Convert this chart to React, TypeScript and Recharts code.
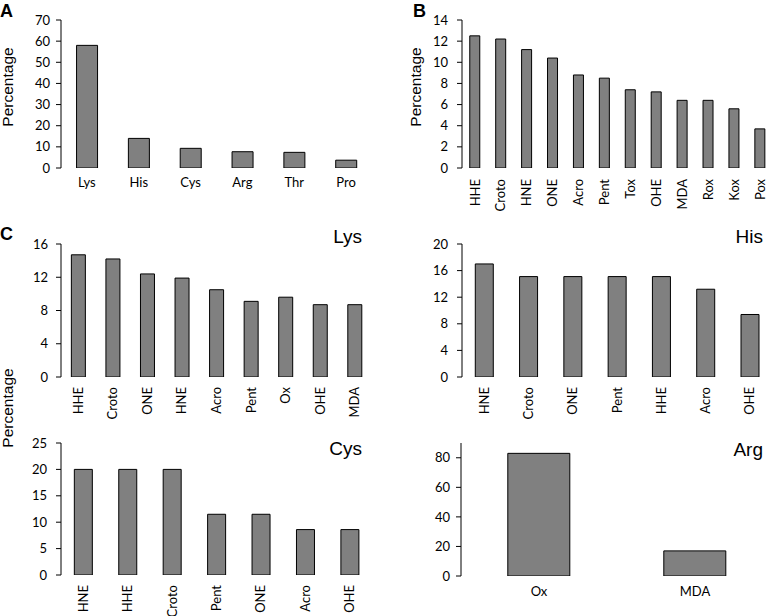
import React from 'react';
import { BarChart, Bar, XAxis, YAxis } from 'recharts';

// Panel A
const aCats = ['Lys', 'His', 'Cys', 'Arg', 'Thr', 'Pro'];
const aVals = [58, 14, 9.3, 7.7, 7.4, 3.7];
const aTicks = [0, 10, 20, 30, 40, 50, 60, 70];

// Panel B
const bCats = ['HHE', 'Croto', 'HNE', 'ONE', 'Acro', 'Pent', 'Tox', 'OHE', 'MDA', 'Rox', 'Kox', 'Pox'];
const bVals = [12.5, 12.2, 11.2, 10.4, 8.8, 8.5, 7.4, 7.2, 6.4, 6.4, 5.6, 3.7];
const bTicks = [0, 2, 4, 6, 8, 10, 12, 14];

// Panel C - Lys
const lysCats = ['HHE', 'Croto', 'ONE', 'HNE', 'Acro', 'Pent', 'Ox', 'OHE', 'MDA'];
const lysVals = [14.7, 14.2, 12.4, 11.9, 10.5, 9.1, 9.6, 8.7, 8.7];
const lysTicks = [0, 4, 8, 12, 16];

// Panel C - His
const hisCats = ['HNE', 'Croto', 'ONE', 'Pent', 'HHE', 'Acro', 'OHE'];
const hisVals = [17, 15.1, 15.1, 15.1, 15.1, 13.2, 9.4];
const hisTicks = [0, 4, 8, 12, 16, 20];

// Panel C - Cys
const cysCats = ['HNE', 'HHE', 'Croto', 'Pent', 'ONE', 'Acro', 'OHE'];
const cysVals = [20, 20, 20, 11.5, 11.5, 8.6, 8.6];
const cysTicks = [0, 5, 10, 15, 20, 25];

// Panel C - Arg
const argCats = ['Ox', 'MDA'];
const argVals = [83, 17];
const argTicks = [0, 20, 40, 60, 80];

const TICK_FONT = "Lato, 'Open Sans', sans-serif";
const LABEL_FONT = "'Liberation Sans', Arial, sans-serif";
const TICK_SIZE = 13;

const build = (cats: string[], vals: number[]) => cats.map((c, i) => ({ name: c, value: vals[i] }));

function RotTick(props: any) {
  const { x, y, payload } = props;
  return (
    <text
      x={x}
      y={y}
      transform={`rotate(-90, ${x}, ${y})`}
      textAnchor="end"
      dy="0.35em"
      fontFamily={TICK_FONT}
      fontSize={TICK_SIZE}
      fill="#000"
    >
      {payload.value}
    </text>
  );
}

function Panel(props: any) {
  const { left, top, width, height, margin, yWidth, xHeight, data, domain, ticks, rotate, labelGap, yMargin } = props;
  const n = data.length;
  const edges = Array.from({ length: n + 1 }, (_, i) => i);
  return (
    <div style={{ position: 'absolute', left, top }}>
      <BarChart width={width} height={height} data={data} margin={margin} barCategoryGap="30%">
        <XAxis
          xAxisId="edges"
          type="number"
          domain={[0, n]}
          ticks={edges}
          tick={false}
          tickSize={5}
          height={0}
          interval={0}
          allowDataOverflow
          axisLine={{ stroke: '#000' }}
          tickLine={{ stroke: '#000' }}
        />
        <XAxis
          xAxisId="cat"
          dataKey="name"
          type="category"
          axisLine={false}
          tickLine={false}
          tickSize={0}
          tickMargin={labelGap}
          height={xHeight}
          interval={0}
          tick={rotate ? <RotTick /> : { fontSize: TICK_SIZE, fill: '#000', fontFamily: TICK_FONT }}
        />
        <YAxis
          type="number"
          domain={domain}
          ticks={ticks}
          width={yWidth}
          tickSize={5}
          tickMargin={yMargin}
          interval={0}
          allowDataOverflow
          axisLine={{ stroke: '#000' }}
          tickLine={{ stroke: '#000' }}
          tick={{ fontSize: TICK_SIZE, fill: '#000', fontFamily: TICK_FONT }}
        />
        <Bar xAxisId="cat" dataKey="value" fill="#808080" stroke="#000" strokeWidth={1} isAnimationActive={false} />
      </BarChart>
    </div>
  );
}

export default function App() {
  return (
    <div style={{ position: 'absolute', left: 0, top: 0, width: 776, height: 616, background: '#fff' }}>
      <Panel left={0} top={0} width={380} height={200} margin={{ top: 20, right: 8, bottom: 0, left: 0 }}
        yWidth={61} xHeight={32} data={build(aCats, aVals)} domain={[0, 70]} ticks={aTicks} rotate={false} labelGap={10} yMargin={6} />
      <Panel left={390} top={0} width={386} height={220} margin={{ top: 20, right: 3, bottom: 0, left: 0 }}
        yWidth={72} xHeight={52} data={build(bCats, bVals)} domain={[0, 14]} ticks={bTicks} rotate={true} labelGap={11} yMargin={9} />
      <Panel left={0} top={220} width={380} height={200} margin={{ top: 24, right: 8, bottom: 0, left: 0 }}
        yWidth={61} xHeight={43} data={build(lysCats, lysVals)} domain={[0, 16]} ticks={lysTicks} rotate={true} labelGap={10} yMargin={8} />
      <Panel left={390} top={220} width={386} height={200} margin={{ top: 24, right: 4, bottom: 0, left: 0 }}
        yWidth={72} xHeight={43} data={build(hisCats, hisVals)} domain={[0, 20]} ticks={hisTicks} rotate={true} labelGap={10} yMargin={9} />
      <Panel left={0} top={420} width={380} height={196} margin={{ top: 23, right: 8, bottom: 0, left: 0 }}
        yWidth={61} xHeight={41} data={build(cysCats, cysVals)} domain={[0, 25]} ticks={cysTicks} rotate={true} labelGap={10} yMargin={9} />
      <Panel left={390} top={420} width={386} height={196} margin={{ top: 23, right: 3, bottom: 0, left: 0 }}
        yWidth={71} xHeight={40} data={build(argCats, argVals)} domain={[0, 90]} ticks={argTicks} rotate={false} labelGap={11} yMargin={6} />
      <svg width={776} height={616} style={{ position: 'absolute', left: 0, top: 0, pointerEvents: 'none' }}>
        <g fontFamily={LABEL_FONT} fill="#000">
          <text x={0} y={17} fontSize={18} fontWeight="bold">A</text>
          <text x={413} y={17} fontSize={18} fontWeight="bold">B</text>
          <text x={0} y={240} fontSize={18} fontWeight="bold">C</text>
          <text transform="translate(13,87) rotate(-90)" textAnchor="middle" fontSize={15.5}>Percentage</text>
          <text transform="translate(421,87) rotate(-90)" textAnchor="middle" fontSize={15.5}>Percentage</text>
          <text transform="translate(13,408) rotate(-90)" textAnchor="middle" fontSize={15.5}>Percentage</text>
          <text x={362} y={243} textAnchor="end" fontSize={19}>Lys</text>
          <text x={763} y={243} textAnchor="end" fontSize={19}>His</text>
          <text x={362} y={455} textAnchor="end" fontSize={19}>Cys</text>
          <text x={763} y={456} textAnchor="end" fontSize={19}>Arg</text>
        </g>
      </svg>
    </div>
  );
}
